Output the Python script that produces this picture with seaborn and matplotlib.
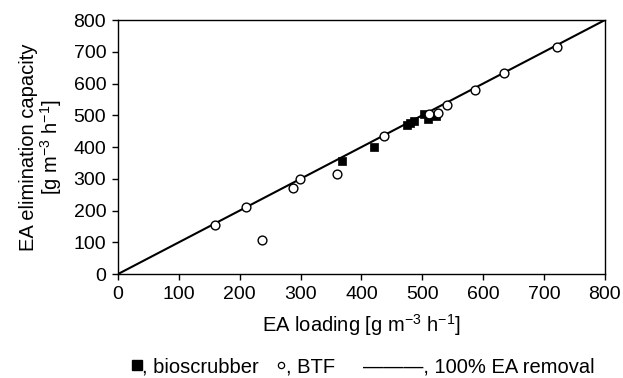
import numpy as np
import pandas as pd
import seaborn as sns
import matplotlib.pyplot as plt
from matplotlib.lines import Line2D

# EA loading vs EA elimination capacity
bio_loading = [368, 420, 474, 480, 487, 502, 510, 522]
bio_ec = [357, 401, 469, 476, 482, 504, 488, 498]

btf_loading = [160, 210, 237, 288, 299, 360, 437, 511, 525, 540, 586, 634, 722]
btf_ec = [155, 210, 107, 270, 298, 315, 436, 504, 507, 532, 580, 632, 715]

line_x = [0, 800]
line_y = [0, 800]

ticks = [0, 100, 200, 300, 400, 500, 600, 700, 800]

sns.set_style("ticks")
plt.rcParams["font.family"] = ["Liberation Sans", "DejaVu Sans"]
plt.rcParams["mathtext.default"] = "regular"
plt.rcParams["text.color"] = "black"
plt.rcParams["axes.labelcolor"] = "black"
plt.rcParams["xtick.color"] = "black"
plt.rcParams["ytick.color"] = "black"

fig = plt.figure(figsize=(6.23, 3.78), dpi=100)
ax = fig.add_axes([0.1894, 0.275, 0.7816, 0.672])

bio = pd.DataFrame({"x": bio_loading, "y": bio_ec})
btf = pd.DataFrame({"x": btf_loading, "y": btf_ec})
line = pd.DataFrame({"x": line_x, "y": line_y})

sns.lineplot(x="x", y="y", data=line, color="black", linewidth=1.5, ax=ax)
sns.scatterplot(
    x="x", y="y", data=bio, marker="s", color="black", edgecolor="black",
    s=38, linewidth=0.5, ax=ax, zorder=3,
)
sns.scatterplot(
    x="x", y="y", data=btf, marker="o", facecolor="white", edgecolor="black",
    s=40, linewidth=1.0, ax=ax, zorder=4,
)

ax.set(xlim=(0, 800), ylim=(0, 800))
ax.set_xticks(ticks)
ax.set_yticks(ticks)
ax.tick_params(labelsize=14, length=4.5, width=1, pad=4, color="black",
               direction="out")
for sp in ax.spines.values():
    sp.set_color("black")
    sp.set_linewidth(1)

ax.set_xlabel("EA loading [g m$^{-3}$ h$^{-1}$]", fontsize=14.5, labelpad=7)
ax.set_ylabel("EA elimination capacity\n[g m$^{-3}$ h$^{-1}$]", fontsize=14.5,
              labelpad=7, linespacing=1.0)

# legend line: marker followed directly by its text
handles = [
    Line2D([], [], marker="s", ms=6.5, color="black", ls="none"),
    Line2D([], [], marker="o", ms=4.5, mfc="white", mec="black", mew=0.9, ls="none"),
    Line2D([], [], ls="none"),
]
labels = [", bioscrubber", ", BTF", "\u2014\u2014\u2014, 100% EA removal"]
fig.legend(
    handles, labels, loc="center", bbox_to_anchor=(0.584, 0.03), ncol=3,
    frameon=False, fontsize=14.5, handlelength=0.35, handletextpad=0.1,
    columnspacing=0.9, borderaxespad=0,
)

fig.savefig("out.png", dpi=100)
